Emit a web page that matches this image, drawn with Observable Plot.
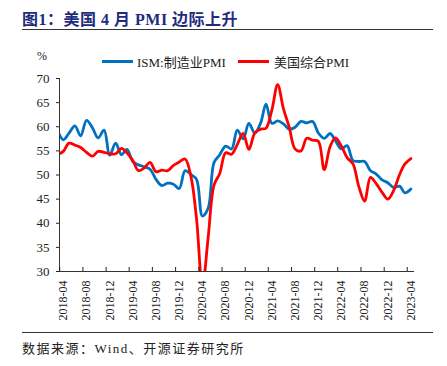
<!DOCTYPE html>
<html><head><meta charset="utf-8">
<script src="https://cdn.jsdelivr.net/npm/d3@7"></script>
<script src="https://cdn.jsdelivr.net/npm/@observablehq/plot@0.6"></script>
<style>
body{margin:0;width:447px;height:366px;position:relative;background:#fff;font-family:"Liberation Serif","Noto Sans CJK SC",serif;overflow:hidden;color:#222}
#title{position:absolute;left:22px;top:6px;font-size:16px;font-weight:bold;color:#1F2C7E;white-space:nowrap;letter-spacing:0.5px}
.rule{position:absolute;left:22px;width:411px;height:0;border-top:1.5px solid #333}
#chart{position:absolute;left:0;top:66px}
.pct{position:absolute;left:37px;top:49px;font-size:12px}
.sw{position:absolute;top:60px;width:31px;height:3px}
.lt{position:absolute;top:52px;font-size:13px;white-space:nowrap}
#src{position:absolute;left:22px;top:338px;font-size:13px;white-space:nowrap;color:#222;letter-spacing:1.5px}
</style></head>
<body>
<div id="title">图1：美国 4 月 PMI 边际上升</div>
<div class="rule" style="top:29px"></div>
<div class="pct">%</div>
<div class="sw" style="left:102px;background:#0070C0"></div>
<div class="lt" style="left:137px">ISM:制造业PMI</div>
<div class="sw" style="left:238px;background:#FF0000"></div>
<div class="lt" style="left:274px">美国综合PMI</div>
<div id="chart"></div>
<div class="rule" style="top:332px"></div>
<div id="src">数据来源：Wind、开源证券研究所</div>
<script>
const months = ["2018-03","2018-04","2018-05","2018-06","2018-07","2018-08","2018-09","2018-10","2018-11","2018-12",
"2019-01","2019-02","2019-03","2019-04","2019-05","2019-06","2019-07","2019-08","2019-09","2019-10","2019-11","2019-12",
"2020-01","2020-02","2020-03","2020-04","2020-05","2020-06","2020-07","2020-08","2020-09","2020-10","2020-11","2020-12",
"2021-01","2021-02","2021-03","2021-04","2021-05","2021-06","2021-07","2021-08","2021-09","2021-10","2021-11","2021-12",
"2022-01","2022-02","2022-03","2022-04","2022-05","2022-06","2022-07","2022-08","2022-09","2022-10","2022-11","2022-12",
"2023-01","2023-02","2023-03","2023-04"];
const ismPMI = [59.3,57.3,58.7,60.2,58.1,61.3,59.8,57.7,59.3,54.1,
56.6,54.2,55.3,52.8,52.1,51.7,51.2,49.1,47.8,48.3,48.1,47.2,
50.9,50.1,49.1,41.5,43.1,52.6,54.2,56.0,55.4,59.3,57.5,60.7,
58.7,60.8,64.7,60.7,61.2,60.6,59.5,59.9,61.1,60.8,61.1,58.7,
57.6,58.6,57.1,55.4,56.1,53.0,52.8,52.8,50.9,50.2,49.0,48.4,
47.4,47.7,46.3,47.1];
const compositePMI = [54.2,54.9,56.6,56.2,55.7,54.7,53.9,54.9,54.7,54.4,
54.4,55.5,54.6,53.0,50.9,51.5,52.6,50.7,51.0,50.9,52.0,52.7,
53.3,49.6,40.9,27.0,37.0,47.9,50.3,54.6,54.3,56.3,58.6,55.3,
58.7,59.5,59.7,63.5,68.7,63.7,59.9,55.4,55.0,57.6,57.2,57.0,
51.1,55.9,57.7,56.0,53.6,52.3,47.7,44.6,49.5,48.2,46.4,45.0,
46.8,50.1,52.3,53.4];
const tickLabels = ["2018-04","2018-08","2018-12","2019-04","2019-08","2019-12","2020-04","2020-08","2020-12","2021-04","2021-08","2021-12","2022-04","2022-08","2022-12","2023-04"];
const yTicks = [30,35,40,45,50,55,60,65,70];

const parse = d3.utcParse("%Y-%m");
const fmt = d3.utcFormat("%Y-%m");
const ism = months.map((m,i)=>({date:parse(m), v:ismPMI[i]}));
const comp = months.map((m,i)=>({date:parse(m), v:compositePMI[i]}));
const labelDates = tickLabels.map(parse);
const tickDates = labelDates.map(d=>d3.utcDay.offset(d,-19));

const chart = Plot.plot({
  width:447, height:264,
  marginLeft:59, marginRight:34, marginTop:12, marginBottom:59,
  style:{fontFamily:'"Liberation Serif","Noto Sans CJK SC",serif', fontSize:"13px", color:"#222", background:"transparent"},
  x:{type:"utc", domain:[new Date(Date.UTC(2018,2,12)), new Date(Date.UTC(2023,3,15))]},
  y:{domain:[30,70]},
  marks:[
    Plot.line(ism,{x:"date",y:"v",stroke:"#0070C0",strokeWidth:2.8,curve:"catmull-rom",clip:true}),
    Plot.line(comp,{x:"date",y:"v",stroke:"#FF0000",strokeWidth:2.8,curve:"catmull-rom",clip:true}),
    Plot.frame({anchor:"left",stroke:"#333"}),
    Plot.frame({anchor:"bottom",stroke:"#333"}),
    Plot.axisY({ticks:yTicks,tickSize:3,tickPadding:7,label:null,fontSize:13,tickFormat:d=>d}),
    Plot.axisX({ticks:labelDates,tickSize:0,tickRotate:-90,tickPadding:9,tickFormat:fmt,label:null,fontSize:12}),
    Plot.axisX({ticks:tickDates,tickSize:4,dy:-4,tickFormat:()=>"",label:null})
  ]
});
document.getElementById("chart").appendChild(chart);
</script>
</body></html>
